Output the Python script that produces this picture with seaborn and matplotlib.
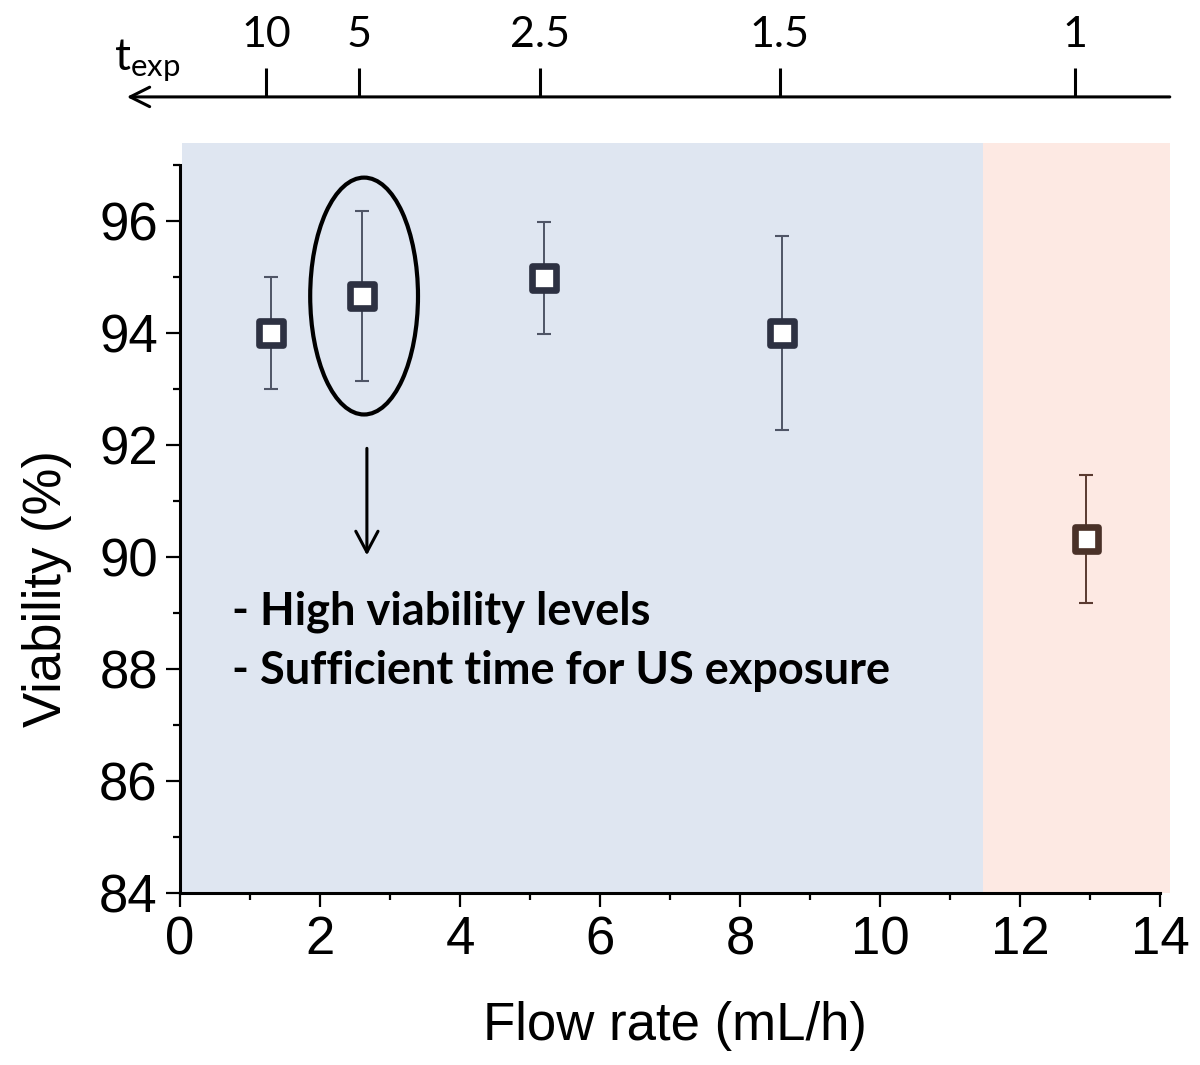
import numpy as np
import pandas as pd
import matplotlib
matplotlib.use("Agg")
import matplotlib.pyplot as plt
from matplotlib.patches import Ellipse
from matplotlib.ticker import MultipleLocator
import seaborn as sns

# --- Data ---
flow_rate = [1.3, 2.6, 5.2, 8.6, 12.95]          # mL/h
viability = [94.0, 94.66, 94.98, 94.0, 90.32]    # %
viability_err = [1.0, 1.52, 1.0, 1.73, 1.15]
regime = ["ok", "ok", "ok", "ok", "fast"]

t_exp_labels = ["10", "5", "2.5", "1.5", "1"]
t_exp_pos = [1.23, 2.56, 5.14, 8.57, 12.79]      # flow-rate position of each t_exp tick

note_lines = ["- High viability levels", "- Sufficient time for US exposure"]

# --- Styling ---
sns.set_style("ticks")
plt.rcParams["font.family"] = ["Liberation Sans", "DejaVu Sans"]
plt.rcParams.update({"text.color": "black", "axes.labelcolor": "black",
                     "xtick.color": "black", "ytick.color": "black",
                     "axes.edgecolor": "black"})

point_colors = {"ok": "#2d3142", "fast": "#4a3128"}
err_colors = {"ok": "#4f5566", "fast": "#5a3a30"}
blue_bg = "#dfe6f1"
pink_bg = "#fde9e3"

df = pd.DataFrame({"flow": flow_rate, "viab": viability,
                   "err": viability_err, "regime": regime})

fig = plt.figure(figsize=(12, 10.65), dpi=100)
ax = fig.add_axes([0.15, 0.1615, 0.8254, 0.7046])
ax.set_facecolor("white")

# shaded regions
ax.axvspan(0.03, 11.47, color=blue_bg, lw=0, zorder=0)
ax.axvspan(11.47, 14.15, color=pink_bg, lw=0, zorder=0)

# error bars
for reg, sub in df.groupby("regime"):
    ax.errorbar(sub["flow"], sub["viab"], yerr=sub["err"], fmt="none",
                ecolor=err_colors[reg], elinewidth=1.4, capsize=5,
                capthick=1.5, zorder=2)

# hollow square markers
sns.scatterplot(data=df, x="flow", y="viab", hue="regime", palette=point_colors,
                marker="s", s=290, linewidth=0, legend=False, ax=ax, zorder=3)
sc = ax.collections[-1]
sc.set_facecolor("white")
sc.set_edgecolor([point_colors[r] for r in df["regime"]])
sc.set_linewidth(4.8)

# ellipse + arrow + note
ax.add_patch(Ellipse((2.63, 94.66), 1.54, 4.23, fill=False, lw=3, ec="black", zorder=4))
ax.annotate("", xy=(2.67, 90.03), xytext=(2.67, 91.94),
            arrowprops=dict(arrowstyle="->,head_length=0.75,head_width=0.4",
                            lw=2.2, color="black", mutation_scale=20,
                            shrinkA=0, shrinkB=0))
for i, line in enumerate(note_lines):
    ax.text(0.74, 89.03 - 1.06 * i, line, fontfamily=["Lato", "DejaVu Sans"],
            fontweight="bold", fontsize=32.5, va="center", ha="left")

# axes cosmetics
ax.set_xlim(0, 14.15)
ax.set_ylim(84, 97.4)
ax.set_xticks(np.arange(0, 15, 2))
ax.set_yticks(np.arange(84, 97, 2))
ax.xaxis.set_minor_locator(MultipleLocator(1))
ax.yaxis.set_minor_locator(MultipleLocator(1))
ax.tick_params(which="major", length=10, width=1.6, labelsize=38, pad=6, direction="out")
ax.tick_params(which="minor", length=5, width=1.6, direction="out")
for side in ["top", "right"]:
    ax.spines[side].set_visible(False)
ax.spines["left"].set_linewidth(2.2)
ax.spines["bottom"].set_linewidth(2.2)
ax.spines["left"].set_bounds(84, 97)
ax.spines["bottom"].set_bounds(0, 14)
ax.set_xlabel("Flow rate (mL/h)", fontsize=38, labelpad=26)
ax.set_ylabel("Viability (%)", fontsize=38)
ax.yaxis.set_label_coords(-0.109, 0.406)

# top exposure-time axis
tax = fig.add_axes([0.15, 0.909, 0.8254, 0.0001])
tax.set_xlim(0, 14.15)
tax.set_ylim(0, 1)
for s in tax.spines.values():
    s.set_visible(False)
tax.set_facecolor("none")
tax.set_yticks([])
tax.xaxis.tick_top()
tax.set_xticks(t_exp_pos)
tax.set_xticklabels(t_exp_labels, fontfamily=["Lato", "DejaVu Sans"], fontsize=31)
tax.tick_params(axis="x", which="major", direction="out", length=21, width=2.2, pad=10,
                top=True, bottom=False, labeltop=True, labelbottom=False)
tax.annotate("", xy=(-0.76, 0), xytext=(14.14, 0), xycoords="data",
             annotation_clip=False,
             arrowprops=dict(arrowstyle="->,head_length=0.7,head_width=0.35",
                             lw=2.2, color="black", mutation_scale=20,
                             shrinkA=0, shrinkB=0))
fig.text(114 / 1200, 1 - 70 / 1065, r"$\mathregular{t_{exp}}$",
         fontfamily=["Lato", "DejaVu Sans"], fontsize=32, ha="left", va="baseline")

fig.savefig("out.png", dpi=100)
